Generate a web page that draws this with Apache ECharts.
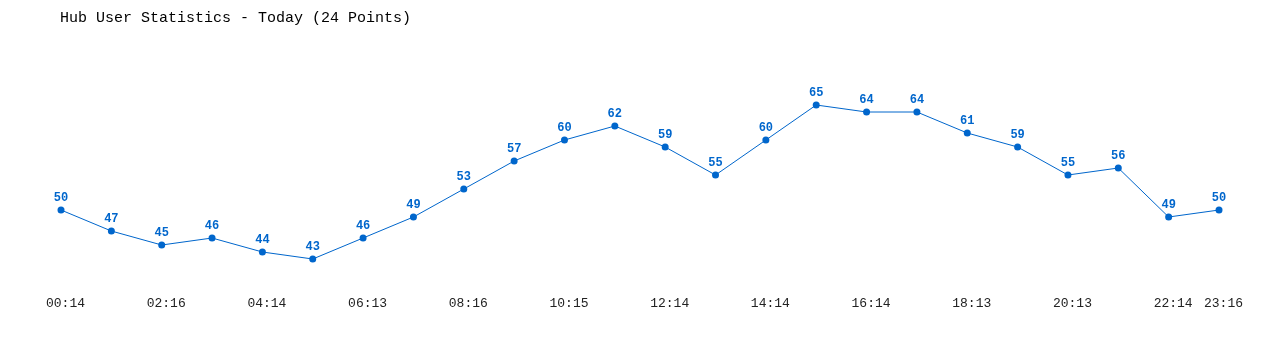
<!DOCTYPE html>
<html><head><meta charset="utf-8">
<script src="https://cdn.jsdelivr.net/npm/echarts@6/dist/echarts.min.js"></script>
<style>html,body{margin:0;padding:0;background:#fff}#c{width:1280px;height:350px}</style>
</head><body><div id="c"></div>
<script>
const categories = ["00:14","01:15","02:16","03:15","04:14","05:14","06:13","07:14","08:16","09:15","10:15","11:14","12:14","13:15","14:14","15:15","16:14","17:14","18:13","19:14","20:13","21:15","22:14","23:16"];
const users = [50,47,45,46,44,43,46,49,53,57,60,62,59,55,60,65,64,64,61,59,55,56,49,50];
const titleText = "Hub User Statistics - Today (24 Points)";
const mono = "'Liberation Mono','DejaVu Sans Mono',monospace";
const chart = echarts.init(document.getElementById('c'), null, {renderer:'canvas'});
chart.setOption({
  animation:false,
  backgroundColor:'#fff',
  title:{text:titleText,left:55,top:6,textStyle:{fontFamily:mono,fontSize:15,fontWeight:'normal',color:'#000'}},
  grid:{left:61,right:61,top:70,bottom:56},
  xAxis:{type:'category',data:categories,boundaryGap:false,
    axisLine:{show:false},axisTick:{show:false},splitLine:{show:false},
    axisLabel:{interval:0,margin:3,fontFamily:mono,fontSize:13,color:'#222',padding:[0,0,0,9],
      formatter:(v,i)=> (i%2===0||i===categories.length-1)?v:''}},
  yAxis:{type:'value',min:38,max:70,show:false,splitLine:{show:false}},
  series:[{type:'line',data:users,symbol:'circle',symbolSize:7,
    lineStyle:{color:'#0066cc',width:1},itemStyle:{color:'#0066cc'},
    label:{show:true,position:'top',distance:3,fontFamily:mono,fontWeight:'bold',fontSize:12,color:'#0066cc'}}]
});
</script></body></html>
